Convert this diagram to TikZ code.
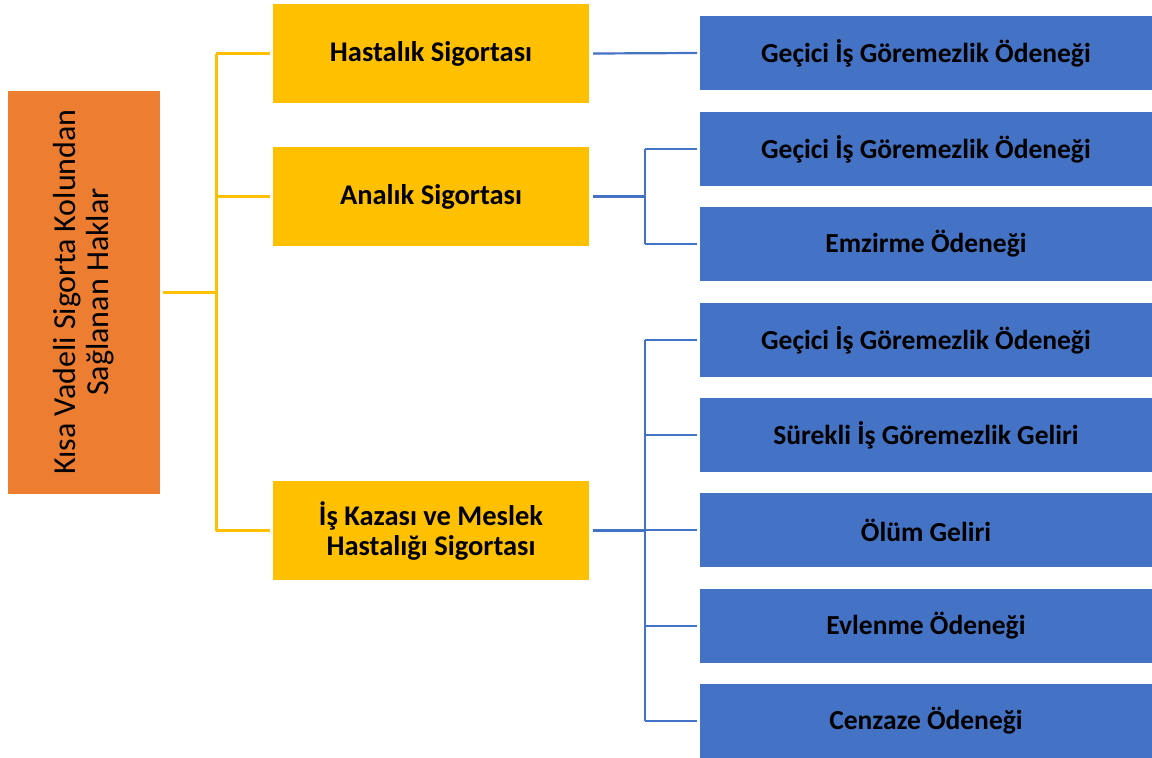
\documentclass[tikz,border=0pt]{standalone}
\usepackage{fontspec}
\setmainfont{Carlito}
\definecolor{orbox}{HTML}{ED7D31}
\definecolor{yebox}{HTML}{FFC000}
\definecolor{blbox}{HTML}{4472C4}
\begin{document}
\begin{tikzpicture}[x=1pt,y=-1pt,
  base/.style={inner sep=0pt,outer sep=0pt,align=center,text=black,font=\fontsize{27.5}{30}\selectfont\bfseries},
  rootbox/.style={base,fill=orbox,minimum width=152pt,minimum height=403pt},
  midbox/.style={base,fill=yebox,minimum width=316pt,minimum height=99pt,font=\fontsize{28.5}{30}\selectfont\bfseries},
  leafbox/.style={base,fill=blbox,minimum width=452pt,minimum height=74pt},
  yline/.style={draw=yebox,line width=3pt},
  bline/.style={draw=blbox,line width=2.2pt}]
\useasboundingbox (0,0) rectangle (1152,758);
\node[rootbox] (root) at (84,292) {};
\node[base,rotate=90,font=\fontsize{32}{33}\selectfont] (roottxt) at (84,292) {Kısa Vadeli Sigorta Kolundan\\Sağlanan Haklar};
\node[midbox] (m1) at (431,53.5) {Hastalık Sigortası};
\node[midbox] (m2) at (431,196.5) {Analık Sigortası};
\node[midbox] (m3) at (431,530.5) {İş Kazası ve Meslek\\Hastalığı Sigortası};
\node[leafbox] (l1) at (926,53) {Geçici İş Göremezlik Ödeneği};
\node[leafbox] (l2) at (926,149) {Geçici İş Göremezlik Ödeneği};
\node[leafbox] (l3) at (926,244) {Emzirme Ödeneği};
\node[leafbox] (l4) at (926,340) {Geçici İş Göremezlik Ödeneği};
\node[leafbox] (l5) at (926,435) {Sürekli İş Göremezlik Geliri};
\node[leafbox] (l6) at (926,530) {Ölüm Geliri};
\node[leafbox] (l7) at (926,626) {Evlenme Ödeneği};
\node[leafbox] (l8) at (926,721) {Cenzaze Ödeneği};
% yellow connectors
\coordinate (yb) at (216,292);
\coordinate (bb) at (645,292);
\draw[yline] ([xshift=3pt]root.east) -- (yb);
\draw[yline] (m1.west -| yb) -- (m3.west -| yb);
\foreach \m in {m1,m2,m3} \draw[yline] (\m.west -| yb) -- ([xshift=-3pt]\m.west);
% blue connectors
\draw[bline] ([xshift=4pt]m1.east) -- ([xshift=-3pt]l1.west);
\draw[bline] ([xshift=4pt]m2.east) -- (m2.east -| bb);
\draw[bline] (l2.west -| bb) -- (l3.west -| bb);
\foreach \l in {l2,l3} \draw[bline] (\l.west -| bb) -- ([xshift=-3pt]\l.west);
\draw[bline,line width=3pt] ([xshift=4pt]m3.east) -- (m3.east -| bb);
\draw[bline] (l4.west -| bb) -- (l8.west -| bb);
\foreach \l in {l4,l5,l6,l7,l8} \draw[bline] (\l.west -| bb) -- ([xshift=-3pt]\l.west);
\end{tikzpicture}
\end{document}
